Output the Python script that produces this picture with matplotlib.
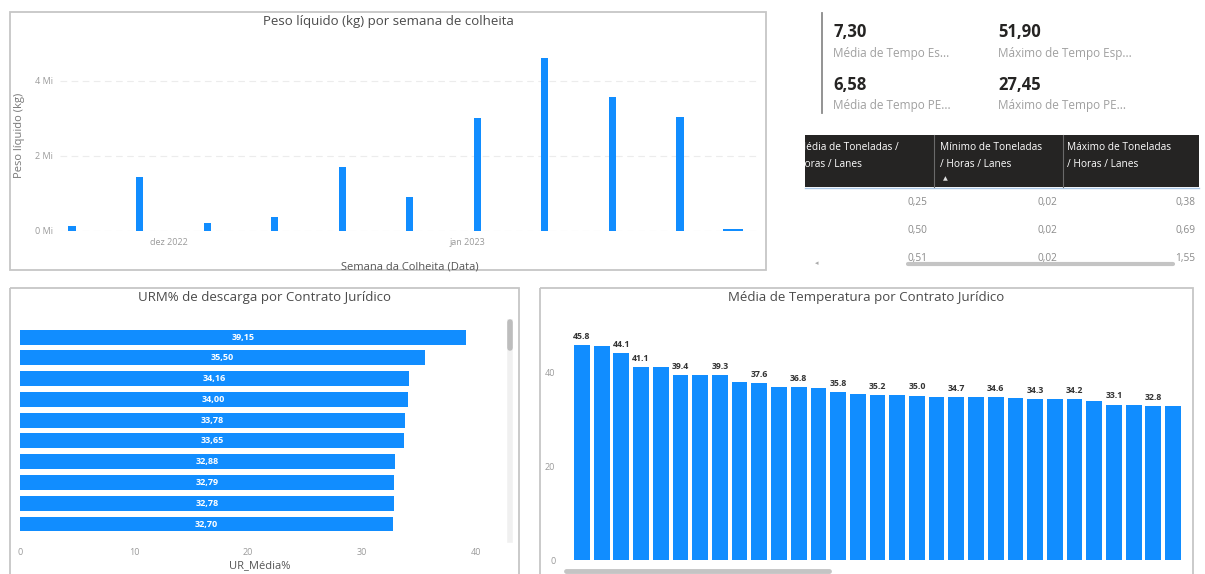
import matplotlib
matplotlib.use("Agg")
import matplotlib.pyplot as plt
import matplotlib.dates as mdates
from matplotlib.patches import Rectangle
import numpy as np

# ---- data --------------------------------------------------------------
peso_dates = ["2022-11-21", "2022-11-28", "2022-12-05", "2022-12-12", "2022-12-19",
              "2022-12-26", "2023-01-02", "2023-01-09", "2023-01-16", "2023-01-23",
              "2023-01-28T12"]
peso_mi = [0.13, 1.44, 0.21, 0.38, 1.71, 0.91, 3.01, 4.62, 3.57, 3.03, 0.06]

kpi_values = ["7,30", "51,90", "6,58", "27,45"]
kpi_labels = ["Média de Tempo Es...", "Máximo de Tempo Esp...",
              "Média de Tempo PE...", "Máximo de Tempo PE..."]

table_headers = ["Média de Toneladas /\nHoras / Lanes",
                 "Mínimo de Toneladas\n/ Horas / Lanes",
                 "Máximo de Toneladas\n/ Horas / Lanes"]
table_rows = [["0,25", "0,02", "0,38"],
              ["0,50", "0,02", "0,69"],
              ["0,51", "0,02", "1,55"]]

urm_values = [39.15, 35.50, 34.16, 34.00, 33.78, 33.65, 32.88, 32.79, 32.78, 32.70]

temp_values = [45.8, 45.6, 44.1, 41.1, 41.0, 39.4, 39.4, 39.3, 37.8, 37.6, 36.9,
               36.8, 36.6, 35.8, 35.4, 35.2, 35.1, 35.0, 34.8, 34.7, 34.7, 34.6,
               34.4, 34.3, 34.3, 34.2, 33.8, 33.1, 32.9, 32.8, 32.8]
temp_labelled = [0, 2, 3, 5, 7, 9, 11, 13, 15, 17, 19, 21, 23, 25, 27, 29]

# ---- style -------------------------------------------------------------
BLUE = "#118DFF"
TICK = "#9a9a9a"
TITLE = "#4a4a4a"
BORDER = "#c6c6c6"
W, H = 1205, 574

plt.rcParams["font.family"] = ["Open Sans", "DejaVu Sans"]


def frac(x0, y0, x1, y1):
    return [x0 / W, 1 - y1 / H, (x1 - x0) / W, (y1 - y0) / H]


def clean(ax):
    ax.set_facecolor("none")
    for s in ax.spines.values():
        s.set_visible(False)
    ax.tick_params(length=0, colors=TICK, labelsize=6.5)


fig = plt.figure(figsize=(W / 100, H / 100), dpi=100)
fig.patch.set_facecolor("white")

ov = fig.add_axes([0, 0, 1, 1], zorder=0)
ov.set_xlim(0, W)
ov.set_ylim(H, 0)
ov.axis("off")

# panel frames
for (x0, y0, x1, y1) in [(10, 12, 766, 270), (10, 288, 519, 580), (540, 288, 1193, 580)]:
    ov.add_patch(Rectangle((x0, y0), x1 - x0, y1 - y0, fill=False, ec=BORDER, lw=1.3))

# ---- Peso liquido ------------------------------------------------------
ov.text(388, 21, "Peso líquido (kg) por semana de colheita", ha="center", va="center",
        fontsize=9.5, color=TITLE)
ax1 = fig.add_axes(frac(60, 40, 760, 231), zorder=1)
clean(ax1)
d = mdates.date2num([np.datetime64(s) for s in peso_dates])
start = mdates.date2num(np.datetime64("2022-11-21"))
widths = [0.75] * (len(d) - 1) + [2.0]
ax1.bar(d, peso_mi, width=widths, color=BLUE)
ax1.set_xlim(start - 1.25, start + 71.3)
ax1.set_ylim(0, 5.09)
ax1.set_yticks([0, 2, 4])
ax1.set_yticklabels(["%d Mi" % v for v in [0, 2, 4]])
ax1.set_xticks(mdates.date2num([np.datetime64("2022-12-01"), np.datetime64("2023-01-01")]))
ax1.set_xticklabels(["dez 2022", "jan 2023"])
ax1.tick_params(axis="y", pad=5)
ax1.tick_params(axis="x", pad=5)
ax1.grid(axis="y", color="#ececec", lw=0.8, ls=(0, (6, 4)))
ax1.set_axisbelow(True)
ax1.set_ylabel("Peso líquido (kg)", fontsize=8, color="#777777")
ax1.yaxis.set_label_coords(-0.05, 0.5)
ax1.set_xlabel("Semana da Colheita (Data)", fontsize=8, color="#555555")
ax1.xaxis.set_label_coords(0.5, -0.16)

# ---- KPI card ----------------------------------------------------------
ov.plot([822, 822], [13, 113], color="#8a8a8a", lw=1.3)
kx = [833, 998]
ky = [32, 85]
for i, (v, lab) in enumerate(zip(kpi_values, kpi_labels)):
    x = kx[i % 2]
    y = ky[i // 2]
    ov.text(x, y, v, ha="left", va="center", fontsize=12, fontweight="bold", color="#252423")
    ov.text(x, y + 21, lab, ha="left", va="center", fontsize=8.5, color="#a0a0a0")

# ---- table -------------------------------------------------------------
hdr = Rectangle((805, 135), 394, 52, fc="#252423", ec="none")
ov.add_patch(hdr)
ov.plot([805, 1199], [188, 188], color="#a9c7e6", lw=1)
for xs in [934, 1063]:
    ov.plot([xs, xs], [135, 187], color="#6a6a6a", lw=0.8)
hx = [797, 940, 1067]
for x, t in zip(hx, table_headers):
    tt = ov.text(x, 142, t, ha="left", va="top", fontsize=7.3, color="white", linespacing=1.75)
    tt.set_clip_path(hdr)
ov.text(943, 179, "▲", ha="left", va="center", fontsize=4.5, color="#dddddd")
rx = [927, 1057, 1195]
row_y = [203, 231, 259]
clip_rows = Rectangle((800, 188), 400, 72, fc="none", ec="none")
ov.add_patch(clip_rows)
for y, row in zip(row_y, table_rows):
    for x, v in zip(rx, row):
        t = ov.text(x, y, v, ha="right", va="center", fontsize=7.3, color="#8a8a8a")
        t.set_clip_path(clip_rows)
ov.plot([908, 1173], [263.5, 263.5], color="#c4c4c4", lw=3, solid_capstyle="round")
ov.text(817, 264, "◂", ha="center", va="center", fontsize=5, color="#aaaaaa")

# ---- URM% --------------------------------------------------------------
ov.text(264, 298, "URM% de descarga por Contrato Jurídico", ha="center", va="center",
        fontsize=9.5, color=TITLE)
ax2 = fig.add_axes(frac(20, 320, 500, 540), zorder=1)
clean(ax2)
yy = np.arange(len(urm_values))
ax2.barh(yy, urm_values, height=0.72, color=BLUE)
for y, v in zip(yy, urm_values):
    ax2.text(v / 2, y, ("%.2f" % v).replace(".", ","), ha="center", va="center",
             fontsize=6.5, fontweight="bold", color="white")
ax2.set_xlim(0, 42.1)
ax2.set_ylim(9.77, -0.82)
ax2.set_yticks([])
ax2.set_xticks([0, 10, 20, 30, 40])
ax2.tick_params(axis="x", pad=6)
ax2.set_xlabel("UR_Média%", fontsize=8, color="#555555")
ax2.xaxis.set_label_coords(0.5, -0.09)
ov.plot([510, 510], [322, 540], color="#f0f0f0", lw=4)
ov.plot([510, 510], [322, 348], color="#bdbdbd", lw=4, solid_capstyle="round")

# ---- Temperatura -------------------------------------------------------
ov.text(866, 298, "Média de Temperatura por Contrato Jurídico", ha="center", va="center",
        fontsize=9.5, color=TITLE)
ax3 = fig.add_axes(frac(565, 320, 1190, 560), zorder=1)
clean(ax3)
xx = np.arange(len(temp_values))
ax3.bar(xx, temp_values, width=0.8, color=BLUE)
for i in temp_labelled:
    ax3.annotate("%.1f" % temp_values[i], (xx[i], temp_values[i]), xytext=(0, 3),
                 textcoords="offset points", ha="center", va="bottom",
                 fontsize=6.3, fontweight="bold", color="#333333")
ax3.set_xlim(-0.86, len(temp_values) - 1 + 0.86)
ax3.set_ylim(0, 51.1)
ax3.set_xticks([])
ax3.set_yticks([0, 20, 40])
ax3.tick_params(axis="y", pad=7)
ov.plot([566, 829], [571, 571], color="#c4c4c4", lw=3.5, solid_capstyle="round")

fig.savefig("out.png", dpi=100, facecolor="white")
